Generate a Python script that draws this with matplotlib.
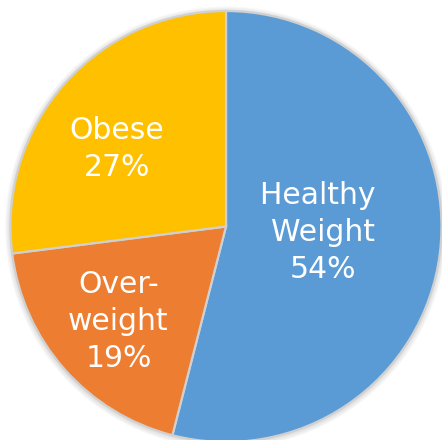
import matplotlib.pyplot as plt
from matplotlib.patches import Circle
import numpy as np

labels = ["Healthy \nWeight", "Over-\nweight", "Obese"]
values = [54, 19, 27]
colors = ["#5B9BD5", "#ED7D31", "#FFC000"]
# label placement: distance from centre and angle shift (deg) from wedge middle
label_r = [0.45, 0.665, 0.62]
label_shift = [3.5, 0.0, 6.0]

fig = plt.figure(figsize=(4.42, 4.40), dpi=100)
ax = fig.add_axes([0, 0, 1, 1])

# soft shadow round the pie
for k in range(6):
    ax.add_patch(Circle((0, -0.004), 1.0 + 0.005 * k, color="#808080",
                        alpha=0.05, lw=0, zorder=0))

wedges, _ = ax.pie(values, colors=colors, startangle=90, counterclock=False,
                   radius=1.0,
                   wedgeprops=dict(edgecolor="#D0D0D0", linewidth=1.6, zorder=1))

total = sum(values)
for w, lab, v, d, s in zip(wedges, labels, values, label_r, label_shift):
    mid = np.deg2rad((w.theta1 + w.theta2) / 2 + s)
    ax.text(d * np.cos(mid), d * np.sin(mid), f"{lab}\n{round(100 * v / total)}%",
            ha="center", va="center", multialignment="center", linespacing=1.34,
            color="white", fontsize=21.5, family="DejaVu Sans", zorder=3)

ax.set_xlim(-1.0487, 1.0023)
ax.set_ylim(-0.9907, 1.0510)
ax.set_aspect("auto")
ax.axis("off")

fig.savefig("out.png", dpi=100)
